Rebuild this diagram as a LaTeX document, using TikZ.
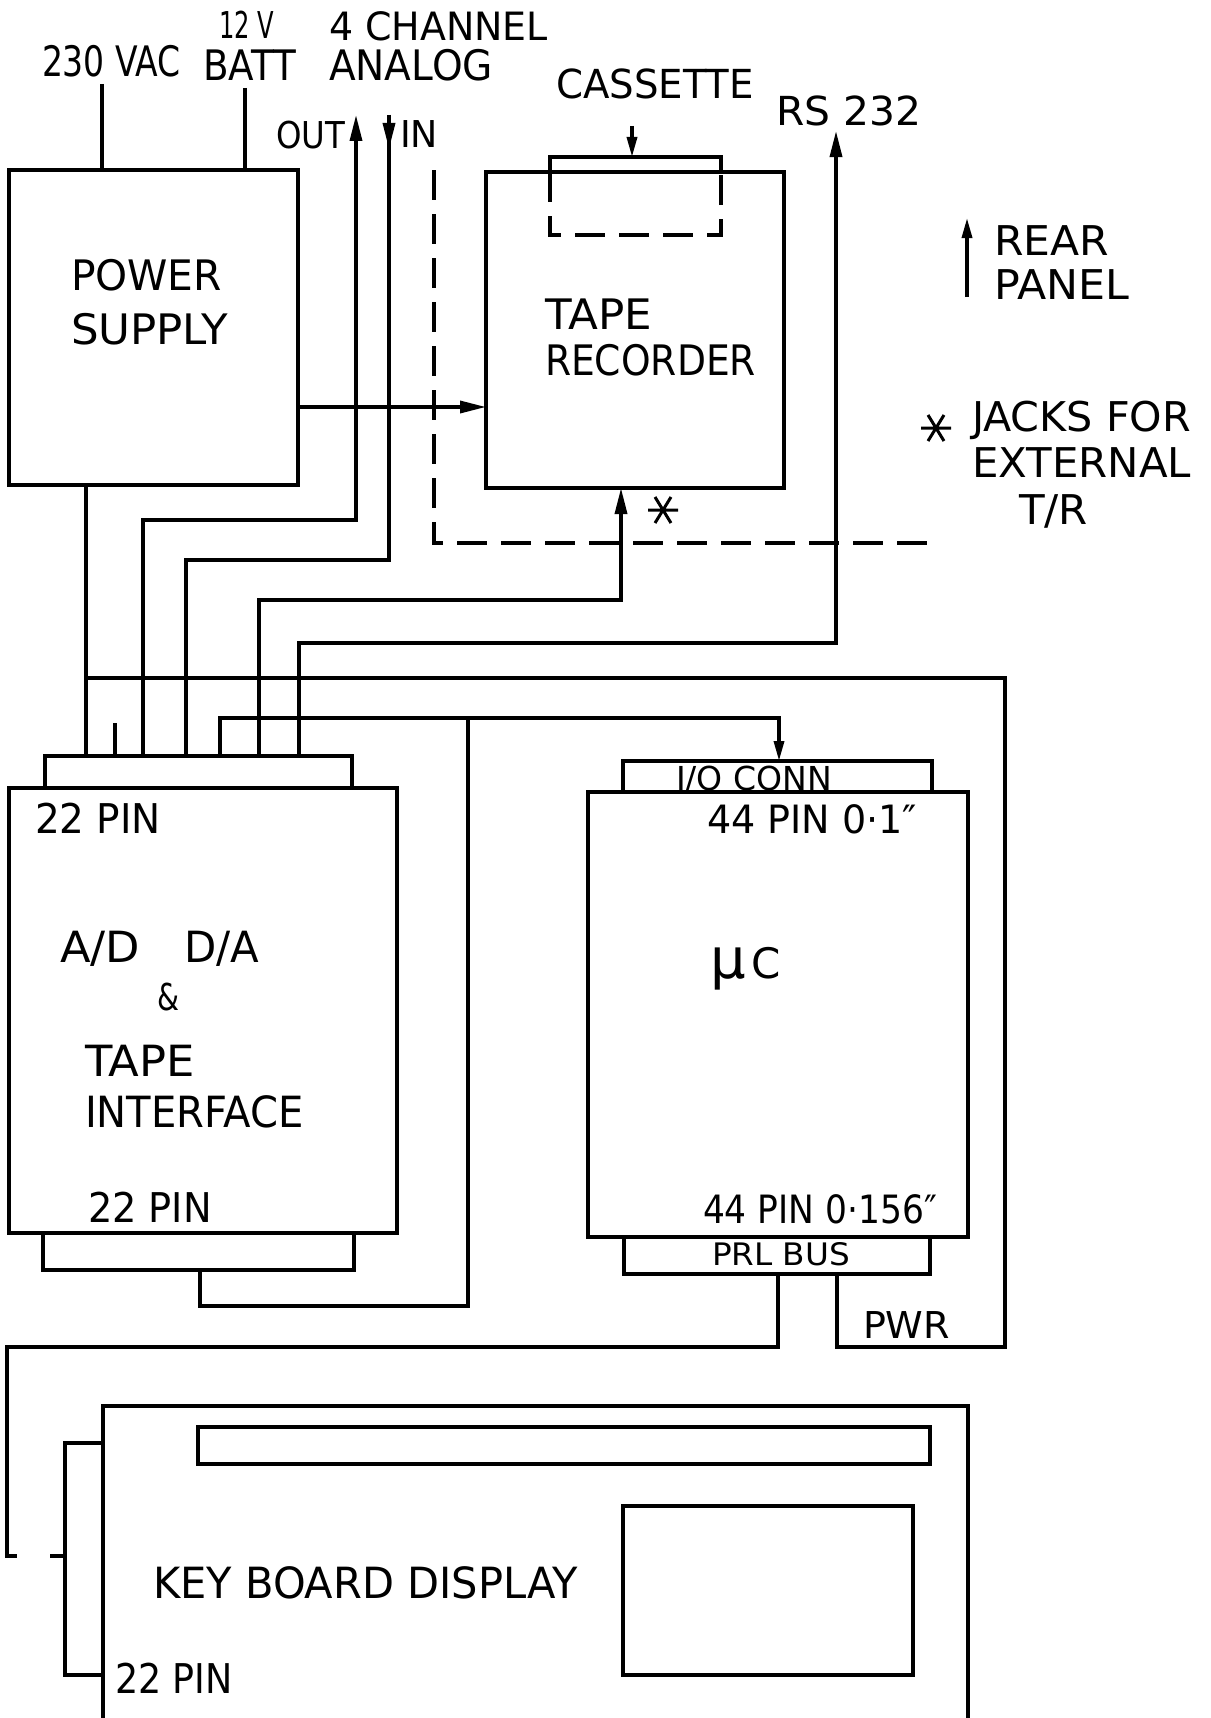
\documentclass[tikz,border=0pt]{standalone}
\usepackage{fontspec}
\setmainfont{DejaVu Sans}
\usepackage{graphicx}
\usetikzlibrary{arrows.meta}
\newcommand{\fw}[2]{\resizebox{#1pt}{\height}{#2}}
\begin{document}
\begin{tikzpicture}[x=1pt,y=-1pt,line width=3.4pt,line join=miter,
  box/.style 2 args={draw,inner sep=0pt,outer sep=0pt,anchor=north west,minimum width=#1pt,minimum height=#2pt},
  arr/.style={-{Triangle[length=26pt,width=12pt]}},
  sarr/.style={-{Triangle[length=20pt,width=10pt]}},
  dashline/.style={dash pattern=on 30pt off 14pt},
  lab/.style={inner sep=0pt,outer sep=0pt,anchor=base west,font=\fontsize{#1}{#1}\selectfont}]
\useasboundingbox (0,0) rectangle (1210,1718);
\fill[white] (0,0) rectangle (1210,1718);
% boxes
\node[box={289}{315}] (ps) at (9,170) {};
\node[box={298}{316}] (tr) at (486,172) {};
\node[box={388}{445}] (adda) at (9,788) {};
\node[box={307}{32}] (adtop) at (45,756) {};
\node[box={311}{37}] (adbot) at (43,1233) {};
\node[box={380}{445}] (uc) at (588,792) {};
\node[box={309}{31}] (io) at (623,761) {};
\node[box={306}{37}] (prl) at (624,1237) {};
\node[box={865}{330}] (kb) at (103,1406) {};
\node[box={732}{37}] (kbstrip) at (198,1427) {};
\node[box={290}{169}] (kbdisp) at (623,1506) {};
% free ends
\coordinate (vacin) at (102,84);
\coordinate (battin) at (245,88);
\coordinate (outend) at (356,115);
\coordinate (inend) at (389,115);
\coordinate (rsend) at (836,131);
\coordinate (casin) at (632,126);
\coordinate (prlend) at (17,1556);
\coordinate (kbstub) at (50,1556);
% supply inputs
\draw (vacin) -- (102,0 |- ps.north);
\draw (battin) -- (245,0 |- ps.north);
% power supply to tape recorder
\draw[arr] (ps.east |- 0,407) -- (tr.west |- 0,407);
% cassette
\draw (550,0 |- tr.north) -- (550,157) -- (721,157) -- (721,0 |- tr.north);
\draw[dashline] (550,0 |- tr.north) -- (550,235) -- (721,235) -- (721,0 |- tr.north);
\draw[sarr] (casin) -- (632,157);
% rear panel dashed line
\draw[dashline] (434,170) -- (434,543) -- (929,543);
% wires into the 22 pin connector
\draw (86,0 |- ps.south) -- (86,0 |- adtop.north);
\draw (115,723) -- (115,0 |- adtop.north);
\draw[arr] (143,0 |- adtop.north) -- (143,520) -- (356,520) -- (outend);
\draw (inend) -- (389,560) -- (186,560) -- (186,0 |- adtop.north);
\draw[arr] (inend) -- (389,149);
\draw[arr] (259,0 |- adtop.north) -- (259,600) -- (621,600) -- (621,0 |- tr.south);
\draw[arr] (299,0 |- adtop.north) -- (299,643) -- (836,643) -- (rsend);
\draw (86,678) -- (1005,678) -- (1005,1347) -- (837,1347) -- (837,0 |- prl.south);
\draw[sarr] (220,0 |- adtop.north) -- (220,718) -- (779,718) -- (779,0 |- io.north);
\draw (468,718) -- (468,1306) -- (200,1306) -- (200,0 |- adbot.south);
% PRL bus to keyboard
\draw (778,0 |- prl.south) -- (778,1347) -- (7,1347) -- (7,1556) -- (prlend);
\draw (kb.west |- 0,1443) -- (65,1443) -- (65,1675) -- (kb.west |- 0,1675);
\draw (kbstub) -- (65,1556);
% legend arrow
\draw[sarr] (967,297) -- (967,218);
% asterisks
\draw[line width=3pt,shift={(663,510)}] (-15,0) -- (15,0) (-8,-13) -- (8,13) (-8,13) -- (8,-13);
\draw[line width=3pt,shift={(936,428)}] (-15,0) -- (15,0) (-8,-13) -- (8,13) (-8,13) -- (8,-13);
% labels
\node[lab=37] (l12v) at (219,39) {\fw{55}{12 V}};
\node[lab=39] (l4ch) at (329,41) {\fw{219}{4 CHANNEL}};
\node[lab=42] (l230) at (42,77) {\fw{139}{230 VAC}};
\node[lab=42] (lbatt) at (203,81) {\fw{93}{BATT}};
\node[lab=42] (lanalog) at (329,81) {\fw{164}{ANALOG}};
\node[lab=37] (lout) at (276,148) {\fw{69}{OUT}};
\node[lab=37] (lin) at (400,148) {\fw{38}{IN}};
\node[lab=40] (lcas) at (556,99) {\fw{198}{CASSETTE}};
\node[lab=40] (lrs) at (776,125) {\fw{145}{RS 232}};
\node[lab=42] (lpower) at (71,290) {\fw{151}{POWER}};
\node[lab=42] (lsupply) at (71,344) {\fw{157}{SUPPLY}};
\node[lab=42] (ltape) at (545,329) {\fw{107}{TAPE}};
\node[lab=42] (lrec) at (545,375) {\fw{211}{RECORDER}};
\node[lab=41] (lrear) at (994,255) {\fw{115}{REAR}};
\node[lab=41] (lpanel) at (994,299) {\fw{135}{PANEL}};
\node[lab=41] (ljacks) at (972,431) {\fw{219}{JACKS FOR}};
\node[lab=41] (lext) at (972,477) {\fw{219}{EXTERNAL}};
\node[lab=41] (ltr) at (1019,524) {\fw{69}{T/R}};
\node[lab=41] (lpin1) at (35,833) {\fw{126}{22 PIN}};
\node[lab=43] (lad) at (60,962) {\fw{80}{A/D}};
\node[lab=43] (lda) at (184,962) {\fw{75}{D/A}};
\node[lab=37] (lamp) at (157,1010) {\fw{22}{\&}};
\node[lab=43] (ltape2) at (85,1076) {\fw{110}{TAPE}};
\node[lab=43] (lintf) at (85,1127) {\fw{219}{INTERFACE}};
\node[lab=41] (lpin2) at (88,1222) {\fw{124}{22 PIN}};
\node[lab=33] (lio) at (676,790) {\fw{156}{I/O CONN}};
\node[lab=39] (lpin3) at (707,833) {\fw{210}{44 PIN 0·1″}};
\node[lab=56] (luc) at (710,978) {µ\hspace{6pt}{\fontsize{42}{42}\selectfont C}};
\node[lab=39] (lpin4) at (703,1223) {\fw{234}{44 PIN 0·156″}};
\node[lab=31] (lprl) at (712,1265) {\fw{138}{PRL BUS}};
\node[lab=37] (lpwr) at (863,1338) {\fw{87}{PWR}};
\node[lab=43] (lkb) at (153,1598) {\fw{425}{KEY BOARD DISPLAY}};
\node[lab=41] (lpin5) at (115,1693) {\fw{118}{22 PIN}};
\end{tikzpicture}
\end{document}
